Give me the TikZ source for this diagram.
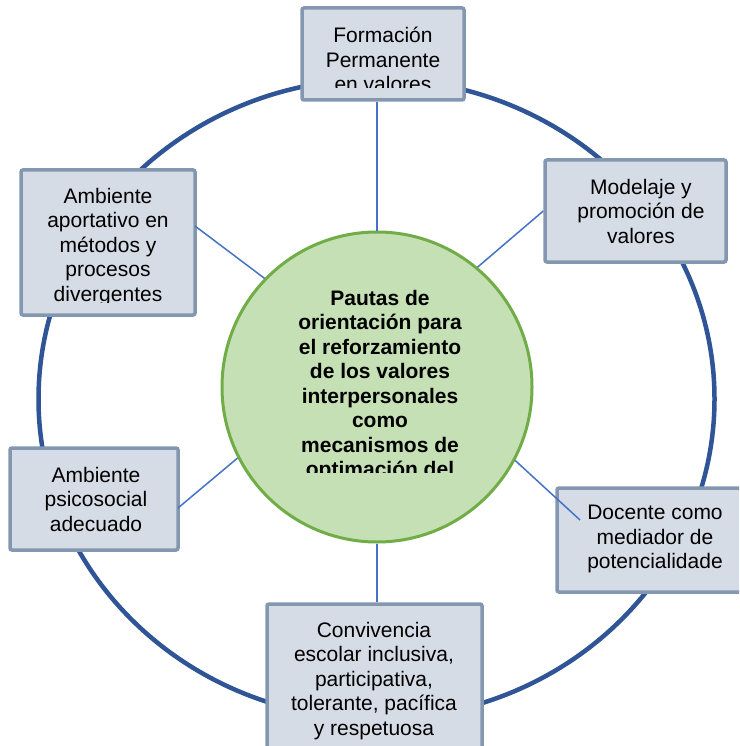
\documentclass[tikz,border=0pt]{standalone}
\usepackage{fontspec}
\setmainfont{Liberation Sans}
\definecolor{ringblue}{HTML}{2F5597}
\definecolor{linkblue}{HTML}{4472C4}
\definecolor{boxline}{HTML}{8497B0}
\definecolor{boxfill}{HTML}{D6DCE5}
\definecolor{cfill}{HTML}{C5E0B4}
\definecolor{cline}{HTML}{70AD47}
\begin{document}
\begin{tikzpicture}[x=1pt,y=-1pt,
  ring/.style={draw=ringblue, line width=4.5pt},
  box/.style={draw=boxline, fill=boxfill, line width=3.5pt, rounded corners=2pt, inner sep=0pt},
  txt/.style={inner sep=0pt, align=center, font=\fontsize{21}{24.5}\selectfont},
  btxt/.style={inner sep=0pt, align=center, font=\fontsize{21}{24.5}\selectfont\bfseries},
  link/.style={draw=linkblue, line width=1.5pt},
  hub/.style={circle, draw=cline, fill=cfill, line width=3pt, minimum size=310pt, inner sep=0pt}]
\useasboundingbox (0,0) rectangle (739,746);
\clip (0,0) rectangle (739,746);
\fill[white] (0,0) rectangle (739,746);
% outer ring
\draw[ring] (376.5,399) ellipse [x radius=338, y radius=320];
% hub
\node[hub] (c) at (377,387) {};
% boxes
\node[box, minimum width=162pt, minimum height=92pt] (b1) at (383,54) {};
\node[box, minimum width=174pt, minimum height=145pt] (b2) at (108,242.5) {};
\node[box, minimum width=181pt, minimum height=102pt] (b3) at (635.5,211) {};
\node[box, minimum width=168pt, minimum height=102pt] (b4) at (94,499) {};
\node[box, minimum width=196pt, minimum height=104pt] (b5) at (655,540) {};
\node[box, minimum width=215pt, minimum height=166pt] (b6) at (374.5,687) {};
% connector end points on box borders
\coordinate (p2) at (195,226);
\coordinate (p4) at (178,508);
\coordinate (p5) at (580,520);
% connectors
\draw[link] (c.north) -- (c.north |- b1.south);
\draw[link] (c.50) -- (b3.west);
\draw[link] (c.136) -- (p2);
\draw[link] (c.207) -- (p4);
\draw[link] (c.-28) -- (p5);
\draw[link] (c.south) -- (c.south |- b6.north);
% texts
\begin{scope}
\clip (302,8) rectangle (464,88);
\node[txt, anchor=north] (t1) at (383,27) {Formación\\Permanente\\en valores};
\end{scope}
\begin{scope}
\clip (21,170) rectangle (195,302);
\node[txt, anchor=north] (t2) at (108,188) {Ambiente\\aportativo en\\métodos y\\procesos\\divergentes};
\end{scope}
\node[txt] (t3) at (641,211) {Modelaje y\\promoción de\\valores};
\node[txt] (t4) at (96,499) {Ambiente\\psicosocial\\adecuado};
\node[txt] (t5) at (655,539) {Docente como\\mediador de\\potencialidade};
\node[txt, anchor=north] (t6) at (374,622) {Convivencia\\escolar inclusiva,\\participativa,\\tolerante, pacífica\\y respetuosa};
\begin{scope}
\clip (222,230) rectangle (532,472);
\node[btxt, anchor=north] (tc) at (380,290) {Pautas de\\orientación para\\el reforzamiento\\de los valores\\interpersonales\\como\\mecanismos de\\optimación del};
\end{scope}
\end{tikzpicture}
\end{document}
